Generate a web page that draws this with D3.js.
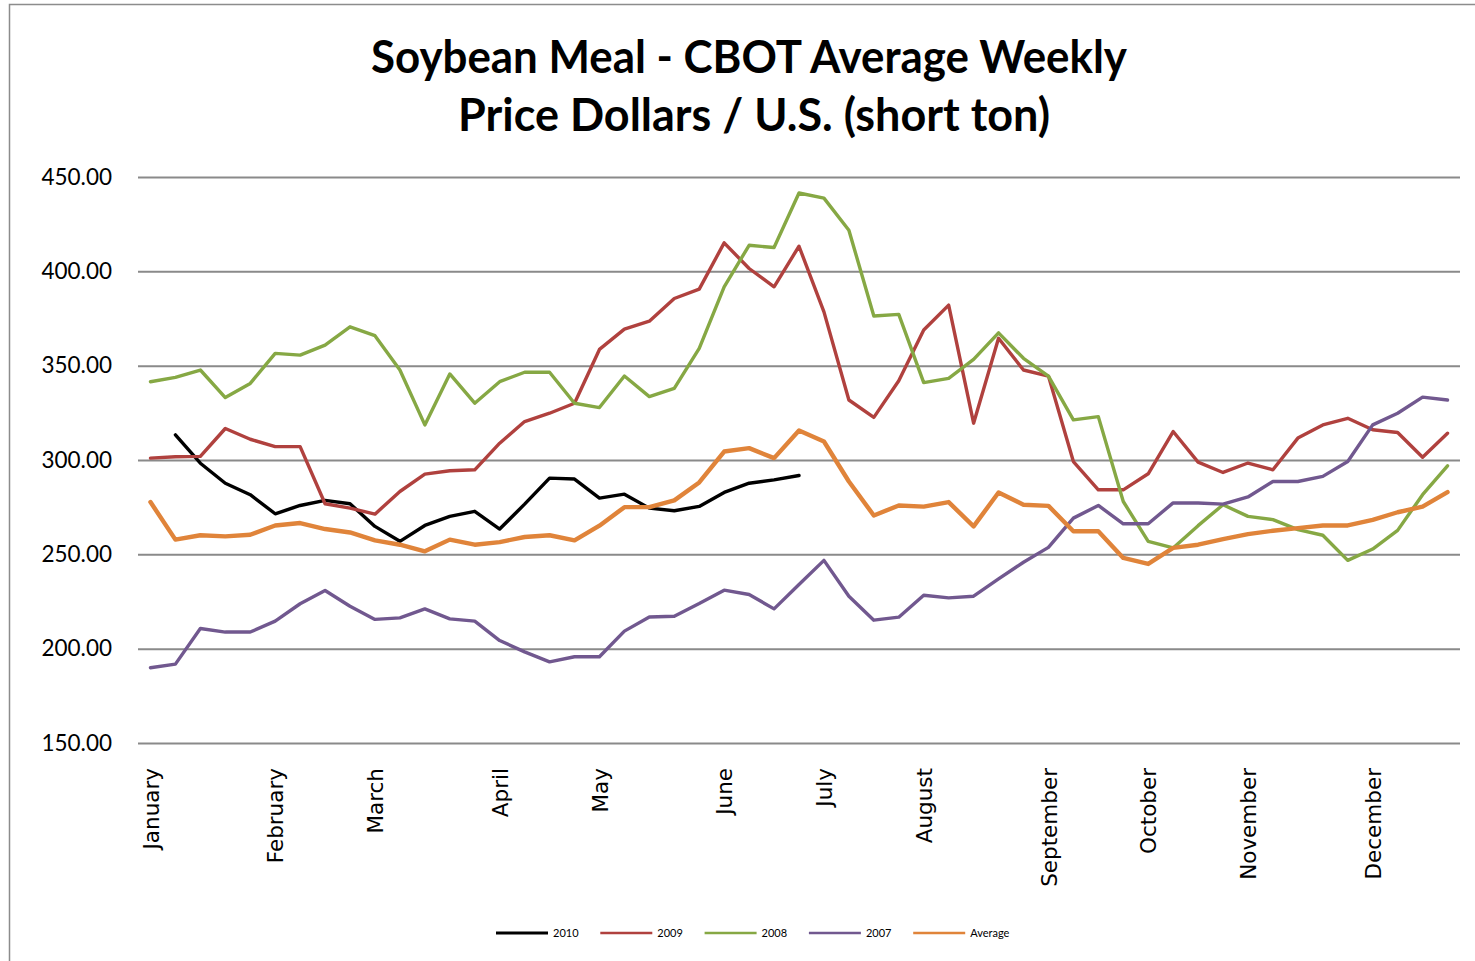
<!DOCTYPE html>
<html>
<head>
<meta charset="utf-8">
<script src="https://cdn.jsdelivr.net/npm/d3@7"></script>
<style>
  body { margin: 0; background: #fff; }
</style>
</head>
<body>
<div id="chart"></div>
<script>
// Week categories (53 weeks) and the month names shown on the x axis
const weeks = d3.range(1, 54);
const monthNames = ["January", "February", "March", "April", "May", "June",
  "July", "August", "September", "October", "November", "December"];
const monthWeeks = [1, 6, 10, 15, 19, 24, 28, 32, 37, 41, 45, 50];
const yTicks = [150, 200, 250, 300, 350, 400, 450];

// Weekly prices
const s2010 = [null, 313.3, 298.3, 287.7, 281.6, 271.5, 275.9, 278.6, 276.8, 264.8, 256.9, 265.3, 270.1, 272.8,
  263.4, 276.6, 290.4, 289.9, 279.8, 281.9, 274.5, 273.1, 275.4, 282.8, 287.7, 289.5, 291.8,
  null, null, null, null, null, null, null, null, null, null, null, null, null, null, null, null, null,
  null, null, null, null, null, null, null, null, null];
const s2009 = [301.0, 301.7, 301.9, 316.7, 311.0, 307.1, 307.1, 276.8, 274.5, 271.3, 283.3, 292.5, 294.3, 294.8,
  308.9, 320.4, 324.8, 330.1, 358.6, 369.4, 373.6, 385.6, 390.6, 415.1, 401.5, 391.8, 413.3, 378.5,
  331.8, 322.6, 342.0, 368.9, 382.1, 319.5, 364.5, 347.7, 344.5, 299.2, 284.2, 284.2, 292.7, 315.1,
  298.9, 293.4, 298.4, 294.8, 311.6, 318.6, 322.1, 316.0, 314.6, 301.5, 314.2];
const s2008 = [341.5, 343.8, 347.7, 333.1, 340.6, 356.5, 355.6, 360.9, 370.6, 365.9, 347.7, 318.6, 345.6, 330.1,
  341.5, 346.5, 346.5, 330.1, 327.8, 344.5, 333.6, 338.0, 359.2, 391.8, 413.8, 412.6, 441.5, 438.8,
  421.8, 376.3, 377.2, 341.0, 343.3, 353.3, 367.4, 353.9, 344.5, 321.3, 323.0, 278.0, 256.9, 253.4,
  265.2, 276.3, 270.1, 268.4, 263.1, 260.1, 246.8, 252.8, 262.7, 281.6, 296.9];
const s2007 = [189.9, 191.8, 210.7, 208.8, 208.8, 214.6, 223.8, 230.8, 222.5, 215.5, 216.3, 221.1, 215.8, 214.6,
  204.3, 198.3, 193.0, 195.7, 195.7, 209.3, 216.8, 217.2, 223.9, 231.0, 228.7, 221.1, 234.0, 246.8,
  227.8, 215.1, 216.7, 228.3, 226.9, 227.8, 237.0, 245.8, 253.7, 269.2, 275.9, 266.2, 266.2, 277.3,
  277.2, 276.6, 280.4, 288.6, 288.6, 291.3, 299.2, 318.6, 324.8, 333.3, 331.8];
const sAvg = [277.7, 257.8, 260.1, 259.5, 260.4, 265.3, 266.6, 263.4, 261.6, 257.4, 255.1, 251.6, 257.8, 255.1,
  256.5, 259.2, 260.1, 257.4, 265.2, 275.0, 275.0, 278.6, 288.1, 304.5, 306.3, 301.0, 315.6, 309.8,
  288.6, 270.6, 275.9, 275.3, 277.7, 264.8, 282.8, 276.3, 275.7, 262.2, 262.2, 248.1, 244.9, 253.4,
  255.1, 258.1, 260.7, 262.5, 263.9, 265.3, 265.3, 268.3, 272.3, 275.3, 283.0];

const seriesNames = ["2010", "2009", "2008", "2007", "Average"];
const seriesValues = [s2010, s2009, s2008, s2007, sAvg];
const seriesColors = ["#000000", "#b0413e", "#86a844", "#71588f", "#e0843a"];
const seriesWidths = [3.4, 3.4, 3.4, 3.4, 4.4];

const W = 1475, H = 961;
const plot = { left: 138, right: 1460, top: 177, bottom: 743 };

const svg = d3.select("#chart").append("svg")
    .attr("width", W)
    .attr("height", H)
    .style("display", "block");

// outer chart border
svg.append("rect")
    .attr("x", 9.5).attr("y", 4.5)
    .attr("width", 1600).attr("height", 1200)
    .attr("fill", "#fff")
    .attr("stroke", "#8c8c8c")
    .attr("stroke-width", 1.5);

// title
const titleLines = ["Soybean Meal - CBOT Average Weekly", "Price Dollars / U.S. (short ton)"];
const titleLengths = [756, 592];
svg.selectAll(".title")
    .data(titleLines)
    .enter().append("text")
    .attr("class", "title")
    .attr("x", (d, i) => i === 0 ? 749 : 754)
    .attr("y", (d, i) => 73 + i * 58)
    .attr("text-anchor", "middle")
    .attr("textLength", (d, i) => titleLengths[i])
    .attr("lengthAdjust", "spacingAndGlyphs")
    .style("font-family", "Lato")
    .style("font-weight", "bold")
    .style("font-size", "45px")
    .text(d => d);

const x = d3.scalePoint()
    .domain(weeks)
    .range([plot.left, plot.right])
    .padding(0.5);

const y = d3.scaleLinear()
    .domain([150, 450])
    .range([plot.bottom, plot.top]);

// y axis with gridlines
const yAxis = svg.append("g")
    .attr("transform", "translate(" + plot.left + ",0)")
    .call(d3.axisLeft(y)
        .tickValues(yTicks)
        .tickFormat(d3.format(".2f"))
        .tickSize(-(plot.right - plot.left))
        .tickPadding(26));
yAxis.select(".domain").remove();
yAxis.selectAll(".tick line")
    .attr("stroke", "#8a8a8a")
    .attr("stroke-width", 2);
yAxis.selectAll(".tick text")
    .style("font-family", "Lato")
    .style("font-size", "22.5px")
    .attr("fill", "#000");

// x axis: month names at the first week of each month
const monthLabel = d => {
  const k = monthWeeks.indexOf(d);
  return k >= 0 ? monthNames[k] : "";
};
const xAxis = svg.append("g")
    .attr("transform", "translate(0," + plot.bottom + ")")
    .call(d3.axisBottom(x).tickFormat(monthLabel).tickSize(0));
xAxis.select(".domain").remove();
xAxis.selectAll(".tick text")
    .attr("transform", "rotate(-90)")
    .attr("text-anchor", "end")
    .attr("x", -25)
    .attr("y", 0)
    .attr("dy", "0.36em")
    .style("font-family", "DejaVu Sans")
    .style("font-size", "21.5px")
    .attr("fill", "#000");

// lines
const line = d3.line()
    .defined(d => d != null)
    .x((d, i) => x(weeks[i]))
    .y(d => y(d));

svg.selectAll(".series")
    .data(seriesValues)
    .enter().append("path")
    .attr("class", "series")
    .attr("fill", "none")
    .attr("stroke", (d, i) => seriesColors[i])
    .attr("stroke-width", (d, i) => seriesWidths[i])
    .attr("stroke-linejoin", "round")
    .attr("stroke-linecap", "round")
    .attr("d", d => line(d));

// legend
const legend = svg.selectAll(".legend")
    .data(seriesNames)
    .enter().append("g")
    .attr("class", "legend")
    .attr("transform", (d, i) => "translate(" + (496 + i * 104.3) + ",933)");
legend.append("line")
    .attr("x1", 0).attr("x2", 52)
    .attr("stroke", (d, i) => seriesColors[i])
    .attr("stroke-width", (d, i) => i === 0 ? 3 : 2.5);
legend.append("text")
    .attr("x", 57)
    .attr("dy", "0.35em")
    .style("font-family", "Lato")
    .style("font-size", "11px")
    .text(d => d);
</script>
</body>
</html>
